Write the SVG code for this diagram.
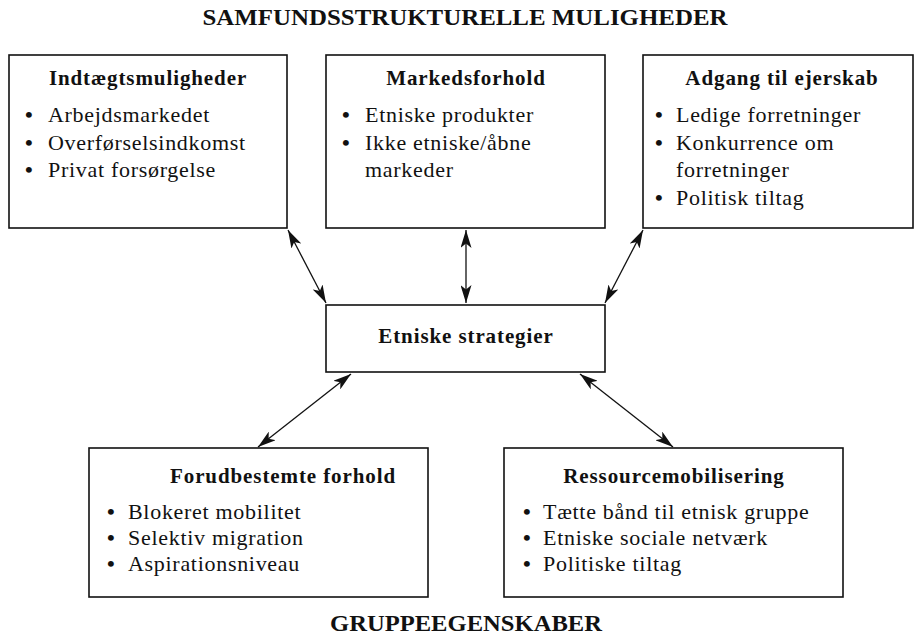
<svg xmlns="http://www.w3.org/2000/svg" width="915" height="636" viewBox="0 0 915 636">
<style>
.box{fill:#fff;stroke:#111;stroke-width:1.6}
.h{font-family:"Liberation Serif","Times New Roman",serif;font-weight:bold;font-size:21px;letter-spacing:0.9px;fill:#111}
.t{font-family:"Liberation Serif","Times New Roman",serif;font-size:22px;letter-spacing:0.7px;fill:#111}
.b{font-weight:bold;letter-spacing:0}
.title{font-family:"Liberation Serif","Times New Roman",serif;font-weight:bold;font-size:23px;fill:#111}
.c{stroke:#111;stroke-width:1.3;fill:none;marker-start:url(#ah);marker-end:url(#ah)}
</style>
<defs>
<marker id="ah" viewBox="0 0 18 11" refX="18" refY="5.5" markerWidth="18" markerHeight="11" markerUnits="userSpaceOnUse" orient="auto-start-reverse">
<path d="M0,0 L18,5.5 L0,11 L4.5,5.5 z" fill="#111"/>
</marker>
</defs>
<text class="title" x="465" y="25" text-anchor="middle" textLength="525" lengthAdjust="spacingAndGlyphs">SAMFUNDSSTRUKTURELLE MULIGHEDER</text>
<text class="title" x="466" y="631" text-anchor="middle" textLength="272" lengthAdjust="spacingAndGlyphs">GRUPPEEGENSKABER</text>

<g id="indtaegt">
<rect class="box" x="9" y="55" width="278" height="173"/>
<text class="h" x="148" y="85" text-anchor="middle">Indtægtsmuligheder</text>
<text class="t" y="122"><tspan class="b" x="25">•</tspan><tspan x="48">Arbejdsmarkedet</tspan></text>
<text class="t" y="150"><tspan class="b" x="25">•</tspan><tspan x="48">Overførselsindkomst</tspan></text>
<text class="t" y="177"><tspan class="b" x="25">•</tspan><tspan x="48">Privat forsørgelse</tspan></text>
</g>

<g id="marked">
<rect class="box" x="326" y="55" width="279" height="173"/>
<text class="h" x="466" y="85" text-anchor="middle">Markedsforhold</text>
<text class="t" y="122"><tspan class="b" x="342">•</tspan><tspan x="365">Etniske produkter</tspan></text>
<text class="t" y="150"><tspan class="b" x="342">•</tspan><tspan x="365">Ikke etniske/åbne</tspan></text>
<text class="t" x="365" y="177">markeder</text>
</g>

<g id="adgang">
<rect class="box" x="643" y="55" width="270" height="173"/>
<text class="h" x="782" y="85" text-anchor="middle">Adgang til ejerskab</text>
<text class="t" y="122"><tspan class="b" x="655">•</tspan><tspan x="676">Ledige forretninger</tspan></text>
<text class="t" y="150"><tspan class="b" x="655">•</tspan><tspan x="676">Konkurrence om</tspan></text>
<text class="t" x="676" y="177">forretninger</text>
<text class="t" y="205"><tspan class="b" x="655">•</tspan><tspan x="676">Politisk tiltag</tspan></text>
</g>

<g id="strategier">
<rect class="box" x="326" y="305" width="279" height="67"/>
<text class="h" x="466" y="343" text-anchor="middle">Etniske strategier</text>
</g>

<g id="forud">
<rect class="box" x="89" y="448" width="339" height="149"/>
<text class="h" x="283" y="483" text-anchor="middle">Forudbestemte forhold</text>
<text class="t" y="519"><tspan class="b" x="107">•</tspan><tspan x="128">Blokeret mobilitet</tspan></text>
<text class="t" y="545"><tspan class="b" x="107">•</tspan><tspan x="128">Selektiv migration</tspan></text>
<text class="t" y="571"><tspan class="b" x="107">•</tspan><tspan x="128">Aspirationsniveau</tspan></text>
</g>

<g id="ressource">
<rect class="box" x="504" y="448" width="339" height="149"/>
<text class="h" x="674" y="483" text-anchor="middle">Ressourcemobilisering</text>
<text class="t" y="519"><tspan class="b" x="523">•</tspan><tspan x="543">Tætte bånd til etnisk gruppe</tspan></text>
<text class="t" y="545"><tspan class="b" x="523">•</tspan><tspan x="543">Etniske sociale netværk</tspan></text>
<text class="t" y="571"><tspan class="b" x="523">•</tspan><tspan x="543">Politiske tiltag</tspan></text>
</g>

<g id="connectors">
<line class="c" x1="288" y1="230" x2="326" y2="303"/>
<line class="c" x1="466" y1="230" x2="466" y2="303"/>
<line class="c" x1="643" y1="230" x2="605" y2="303"/>
<line class="c" x1="351" y1="374" x2="258" y2="447"/>
<line class="c" x1="580" y1="374" x2="673" y2="447"/>
</g>
</svg>
